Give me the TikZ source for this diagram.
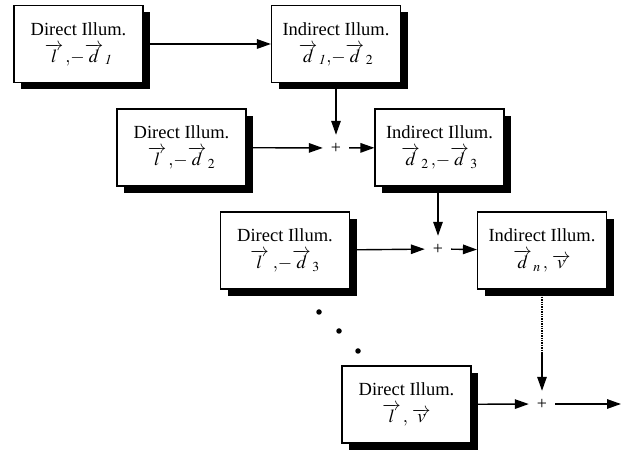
\documentclass[tikz,border=0pt]{standalone}
\usepackage{mathptmx}
\usepackage{fontspec}
\setmainfont{Liberation Serif}
\usetikzlibrary{arrows.meta,shadows}
\begin{document}
\begin{tikzpicture}[x=1pt,y=-1pt,
  box/.style={draw,line width=1.1pt,fill=white,minimum width=129pt,minimum height=77pt,inner sep=0pt,align=center,
    font=\fontsize{18.5}{27}\selectfont,
    drop shadow={fill=black,opacity=1,shadow xshift=7pt,shadow yshift=-7pt}},
  plus/.style={circle,minimum size=26pt,inner sep=0pt,font=\fontsize{18}{20}\selectfont},
  arr/.style={line width=1.4pt,-{Triangle[length=14pt,width=9.5pt]}},
  dot/.style={circle,fill=black,inner sep=0pt,minimum size=5.5pt}]
\useasboundingbox (0,0) rectangle (630,454);
\node[box] (d1) at (78.5,44) {Direct Illum.\\$\overrightarrow{l}\,,\!-\overrightarrow{d}_{\,\mathit{1}}$};
\node[box] (i1) at (336,44) {Indirect Illum.\\$\overrightarrow{d}_{\,\mathit{1}},\!-\overrightarrow{d}_{\,2}$};
\node[box] (d2) at (181.5,147.5) {Direct Illum.\\$\overrightarrow{l}\,,\!-\overrightarrow{d}_{\,2}$};
\node[plus] (p1) at (336,148) {+};
\node[box] (i2) at (439.5,147.5) {Indirect Illum.\\$\overrightarrow{d}_{\,2}\,,\!-\overrightarrow{d}_{\,3}$};
\node[box] (d3) at (285,250.5) {Direct Illum.\\$\overrightarrow{l}\,\,,\!-\overrightarrow{d}_{\,3}$};
\node[plus] (p2) at (438,249) {+};
\node[box] (i3) at (542,250.5) {Indirect Illum.\\$\overrightarrow{d}_{\,n}\,,\,\overrightarrow{v}$};
\node[box] (d4) at (406.5,404.5) {Direct Illum.\\$\overrightarrow{l}\,,\,\overrightarrow{v}$};
\node[plus] (p3) at (542,404) {+};
\coordinate (out) at (621,404);
\coordinate (m) at (542,353);
\node[dot] (k1) at (319,312) {};
\node[dot] (k2) at (339,331) {};
\node[dot] (k3) at (358,351) {};
\draw[arr] (d1) -- (i1);
\draw[arr] (i1) -- (p1);
\draw[arr] (d2) -- (p1);
\draw[arr] (p1) -- (i2);
\draw[arr] (i2.south -| p2) -- (p2);
\draw[arr] (d3) -- (p2);
\draw[arr] (p2) -- (i3);
\draw[line width=1.4pt,densely dotted] (i3) -- (m);
\draw[arr] (m) -- (p3);
\draw[arr] (d4) -- (p3);
\draw[arr] (p3) -- (out);
\end{tikzpicture}
\end{document}
